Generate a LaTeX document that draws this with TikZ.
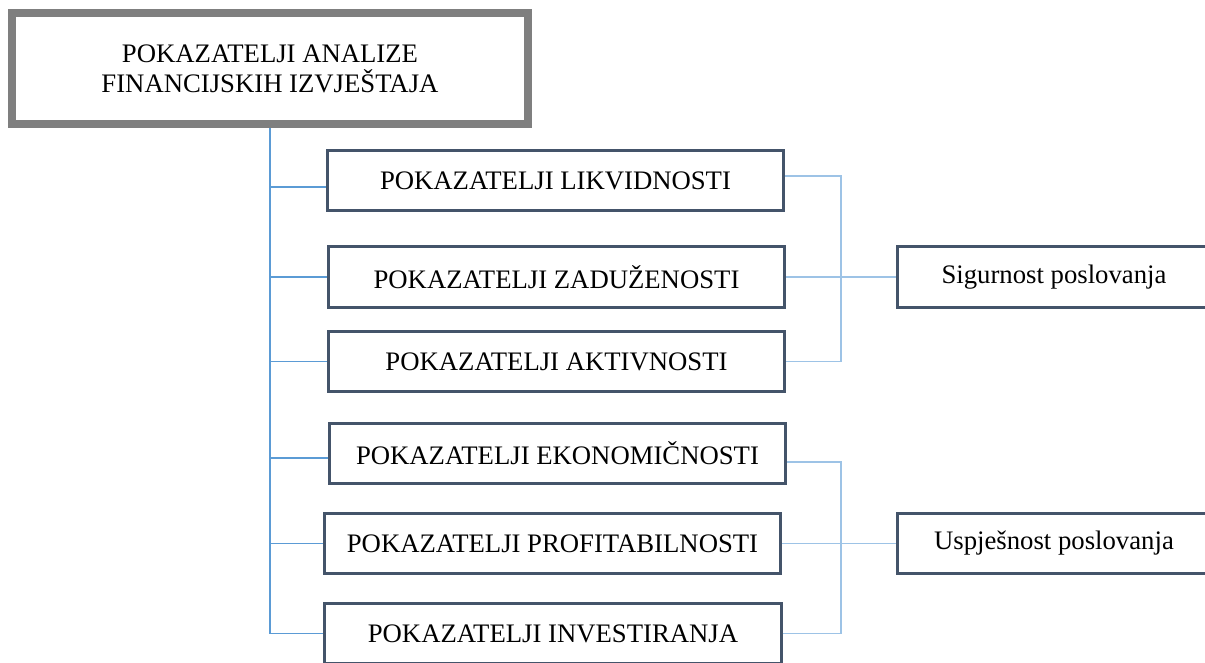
\documentclass[tikz,border=0pt]{standalone}
\usepackage{fontspec}
\setmainfont{Liberation Serif}
\usepackage{tikz}

\definecolor{boxline}{HTML}{44546A}
\definecolor{frame}{HTML}{7F7F7F}
\definecolor{trunk}{HTML}{5B9BD5}
\definecolor{twig}{HTML}{9DC3E6}

\begin{document}
\begin{tikzpicture}[x=0.025cm,y=-0.025cm,font=\fontsize{19}{21.3}\selectfont]
	\useasboundingbox (0,0) rectangle (1205,663);
	\clip (0,0) rectangle (1205,663);

	\node[draw=frame, line width=0.2cm, minimum width=12.9cm, minimum height=2.775cm, align=center] (main) at (270,68.5) {POKAZATELJI ANALIZE\\FINANCIJSKIH IZVJEŠTAJA};
	\node[draw=boxline, line width=0.075cm, minimum width=11.4cm, minimum height=1.5cm] (1) at (555.5,180.5) {POKAZATELJI LIKVIDNOSTI};
	\node[draw=boxline, line width=0.075cm, minimum width=11.4cm, minimum height=1.5cm] (2) at (556.5,277) {POKAZATELJI ZADUŽENOSTI};
	\node[draw=boxline, line width=0.075cm, minimum width=11.4cm, minimum height=1.5cm] (3) at (556.5,361.5) {POKAZATELJI AKTIVNOSTI};
	\node[draw=boxline, line width=0.075cm, minimum width=11.4cm, minimum height=1.5cm] (4) at (557.5,453.5) {POKAZATELJI EKONOMIČNOSTI};
	\node[draw=boxline, line width=0.075cm, minimum width=11.4cm, minimum height=1.5cm] (5) at (552.5,543.5) {POKAZATELJI PROFITABILNOSTI};
	\node[draw=boxline, line width=0.075cm, minimum width=11.4cm, minimum height=1.5cm] (6) at (553,633.5) {POKAZATELJI INVESTIRANJA};
	\node[draw=boxline, line width=0.075cm, minimum width=7.8cm, minimum height=1.5cm] (7) at (1054,277) {Sigurnost poslovanja};
	\node[draw=boxline, line width=0.075cm, minimum width=7.8cm, minimum height=1.5cm] (8) at (1054,543.5) {Uspješnost poslovanja};

	% main to groups
	\draw[trunk, line width=0.9pt](main.south) |- ([yshift=-0.16cm]1.west);
	\draw[trunk, line width=0.9pt](main.south) |- (2.west);
	\draw[trunk, line width=0.9pt](main.south) |- (3.west);
	\draw[trunk, line width=0.9pt](main.south) |- ([yshift=-0.11cm]4.west);
	\draw[trunk, line width=0.9pt](main.south) |- (5.west);
	\draw[trunk, line width=0.9pt](main.south) |- (6.west);
	% safety
	\coordinate (s) at (841,277);
	\draw[twig, line width=1pt]([yshift=0.11cm]1.east) -| (s);
	\draw[twig, line width=1pt](3.east) -| (s);
	\draw[twig, line width=1pt](2.east) -- (7.west);
	% success
	\coordinate (u) at (841,543.5);
	\draw[twig, line width=1pt]([yshift=-0.21cm]4.east) -| (u);
	\draw[twig, line width=1pt](6.east) -| (u);
	\draw[twig, line width=1pt](5.east) -- (8.west);
\end{tikzpicture}
\end{document}
